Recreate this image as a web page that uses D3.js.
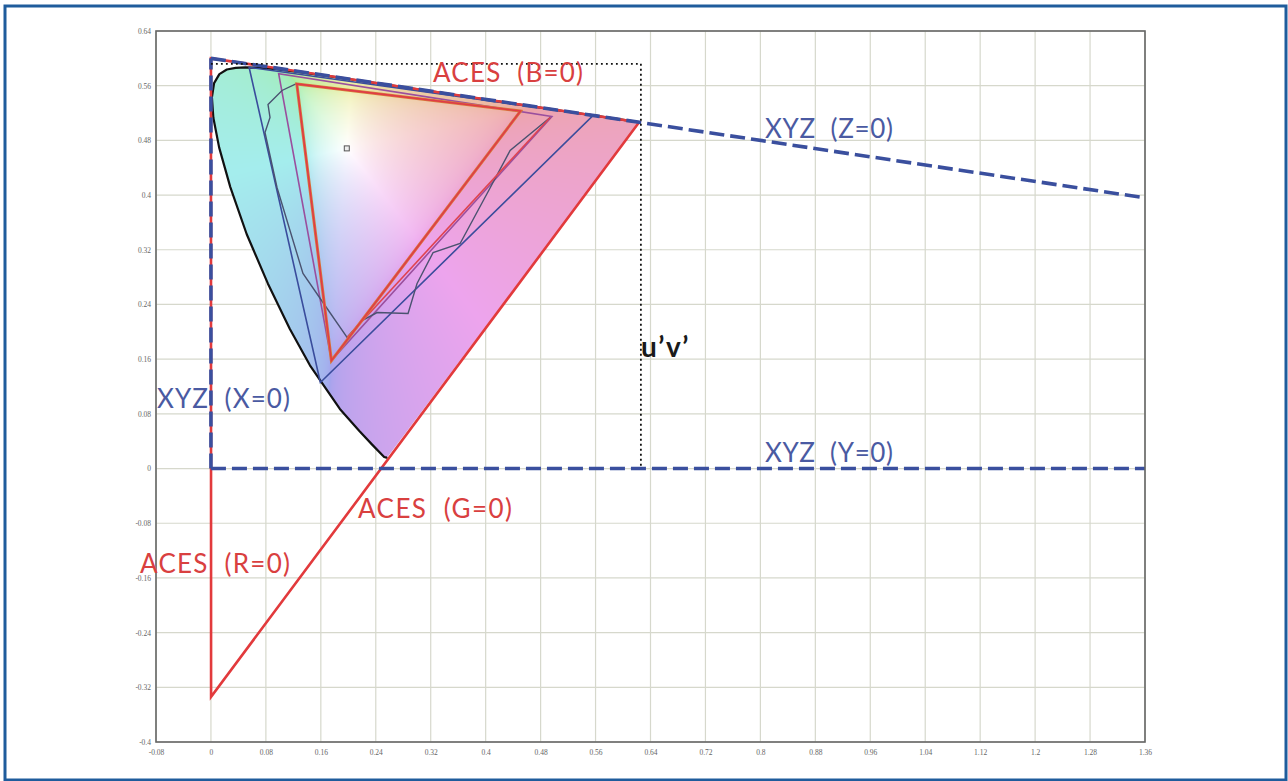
<!DOCTYPE html>
<html><head><meta charset="utf-8">
<script src="https://cdn.jsdelivr.net/npm/d3@7"></script>
<style>html,body{margin:0;padding:0;background:#fff;}svg{display:block;}</style>
</head><body>
<svg id="chart" width="1288" height="781"></svg>
<script>
// ---------- DATA ----------
const xTickValues = [-0.08,0,0.08,0.16,0.24,0.32,0.4,0.48,0.56,0.64,0.72,0.8,0.88,0.96,1.04,1.12,1.2,1.28,1.36];
const xTickLabels = ["-0.08","0","0.08","0.16","0.24","0.32","0.4","0.48","0.56","0.64","0.72","0.8","0.88","0.96","1.04","1.12","1.2","1.28","1.36"];
const yTickValues = [-0.4,-0.32,-0.24,-0.16,-0.08,0,0.08,0.16,0.24,0.32,0.4,0.48,0.56,0.64];
const yTickLabels = ["-0.4","-0.32","-0.24","-0.16","-0.08","0","0.08","0.16","0.24","0.32","0.4","0.48","0.56","0.64"];

// spectral locus (u', v'), 380 nm -> 700 nm
const locusNm = [380,400,420,440,450,460,470,475,480,485,490,495,500,505,510,515,520,525,530,535,540,545,550,555,560,565,570,575,580,585,590,595,600,610,620,630,640,650,700];
const locusU = [0.2568,0.2557,0.2522,0.2347,0.2161,0.1877,0.1441,0.1147,0.0828,0.0521,0.0282,0.0119,0.0035,0.0014,0.0046,0.0123,0.0231,0.0360,0.0501,0.0643,0.0792,0.0953,0.1127,0.1319,0.1531,0.1766,0.2026,0.2312,0.2623,0.2960,0.3315,0.3681,0.4035,0.4692,0.5203,0.5565,0.5830,0.6005,0.6234];
const locusV = [0.0166,0.0159,0.0169,0.0350,0.0549,0.0871,0.1510,0.2044,0.2708,0.3427,0.4117,0.4698,0.5131,0.5431,0.5638,0.5770,0.5837,0.5861,0.5868,0.5865,0.5856,0.5841,0.5821,0.5796,0.5766,0.5732,0.5694,0.5651,0.5604,0.5554,0.5501,0.5446,0.5393,0.5296,0.5219,0.5165,0.5125,0.5099,0.5065];

// ACES AP0 primaries R, G, B
const acesU = [0.6234, 0.0, 0.0002];
const acesV = [0.5065, 0.6, -0.3338];
// Rec.2020, P3, Rec.709 (R, G, B)
const rec2020U = [0.5566, 0.0556, 0.1593];
const rec2020V = [0.5165, 0.5868, 0.1258];
const p3U = [0.4964, 0.0986, 0.1754];
const p3V = [0.5150, 0.5777, 0.1579];
const rec709U = [0.4507, 0.1250, 0.1754];
const rec709V = [0.5229, 0.5625, 0.1579];
// irregular gamut outline
const jagU = [0.1253,0.1035,0.0831,0.0860,0.0787,0.0962,0.1151,0.1340,0.1661,0.1982,0.2200,0.2419,0.2870,0.3001,0.3235,0.3628,0.4021,0.4356,0.4939];
const jagV = [0.5633,0.5530,0.5325,0.5135,0.4916,0.4111,0.3482,0.2853,0.2385,0.1917,0.2165,0.2282,0.2268,0.2707,0.3160,0.3292,0.4023,0.4652,0.5135];
const redExtraU = [0.1982, 0.4939];
const redExtraV = [0.1917, 0.5135];
// XYZ boundary lines
const xyzX0U = [0, 0], xyzX0V = [0, 0.6];
const xyzY0U = [0, 1.36], xyzY0V = [0, 0];
const xyzZ0U = [0, 1.36], xyzZ0V = [0.6, 0.396];
// dotted u'v' box
const boxU = [0, 0.626, 0.626], boxV = [0.592, 0.592, 0];
// D65 white
const whiteU = [0.1978], whiteV = [0.4683];

// ---------- LAYOUT ----------
const svg = d3.select("#chart");
const x = d3.scaleLinear().domain([-0.08, 1.36]).range([156, 1145]);
const y = d3.scaleLinear().domain([-0.4, 0.64]).range([742, 31]);
const pts = (U, V) => U.map((u, i) => [x(u), y(V[i])]);
const line = d3.line();

// outer frame
svg.append("rect").attr("x", 5).attr("y", 6).attr("width", 1281).attr("height", 774)
  .attr("fill", "#fff").attr("stroke", "#1f5c9c").attr("stroke-width", 3);

// grid
const g = svg.append("g");
g.selectAll(".vg").data(xTickValues).join("line")
  .attr("x1", d => x(d)).attr("x2", d => x(d)).attr("y1", y(0.64)).attr("y2", y(-0.4))
  .attr("stroke", "#d6d8cc").attr("stroke-width", 1.2);
g.selectAll(".hg").data(yTickValues).join("line")
  .attr("y1", d => y(d)).attr("y2", d => y(d)).attr("x1", x(-0.08)).attr("x2", x(1.36))
  .attr("stroke", "#d6d8cc").attr("stroke-width", 1.2);

// axes with tick labels
const xAxis = d3.axisBottom(x).tickValues(xTickValues).tickFormat((d, i) => xTickLabels[i]).tickSize(0).tickPadding(8);
const yAxis = d3.axisLeft(y).tickValues(yTickValues).tickFormat((d, i) => yTickLabels[i]).tickSize(0).tickPadding(5);
const ax = svg.append("g").attr("transform", `translate(0,${y(-0.4)})`).call(xAxis);
const ay = svg.append("g").attr("transform", `translate(${x(-0.08)},0)`).call(yAxis);
[ax, ay].forEach(a => {
  a.select(".domain").remove();
  a.selectAll("text").attr("font-family", "Liberation Serif, DejaVu Serif, serif").attr("font-size", 7.5).attr("fill", "#666");
});

// chromaticity fill (pastel), rendered into an image and clipped to the locus
const defs = svg.append("defs");
const locusPts = pts(locusU, locusV);
defs.append("clipPath").attr("id", "locusClip").append("path").attr("d", line(locusPts) + "Z");
(function () {
  const x0 = Math.floor(x(0)), x1 = Math.ceil(x(0.63)), y0 = Math.floor(y(0.6)), y1 = Math.ceil(y(0.0));
  const w = x1 - x0, h = y1 - y0;
  const cv = document.createElement("canvas"); cv.width = w; cv.height = h;
  const ctx = cv.getContext("2d");
  const img = ctx.createImageData(w, h);
  const gam = c => c <= 0.0031308 ? 12.92 * c : 1.055 * Math.pow(c, 1 / 2.4) - 0.055;
  const s = 0.31;
  for (let j = 0; j < h; j++) {
    for (let i = 0; i < w; i++) {
      const u = x.invert(x0 + i + 0.5), v = y.invert(y0 + j + 0.5);
      const k = (i + j * w) * 4;
      const den = 6 * u - 16 * v + 12;
      const cx = 9 * u / den, cy = 4 * v / den;
      if (cy <= 0.001) { img.data[k + 3] = 0; continue; }
      const X = cx / cy, Y = 1, Z = (1 - cx - cy) / cy;
      let r = 3.2406 * X - 1.5372 * Y - 0.4986 * Z;
      let gg = -0.9689 * X + 1.8758 * Y + 0.0415 * Z;
      let b = 0.0557 * X - 0.2040 * Y + 1.0570 * Z;
      const mn = Math.min(r, gg, b);
      if (mn < 0) { r -= mn; gg -= mn; b -= mn; }
      const mx = Math.max(r, gg, b);
      r = gam(r / mx); gg = gam(gg / mx); b = gam(b / mx);
      const sat = 1 - Math.min(r, gg, b);
      const sc = 1 - 0.07 * sat;
      const f = c => (1 - s * (1 - c)) * sc;
      img.data[k] = Math.round(f(r) * 255); img.data[k + 1] = Math.round(f(gg) * 255); img.data[k + 2] = Math.round(f(b) * 255); img.data[k + 3] = 255;
    }
  }
  ctx.putImageData(img, 0, 0);
  svg.append("image").attr("x", x0).attr("y", y0).attr("width", w).attr("height", h)
    .attr("href", cv.toDataURL()).attr("clip-path", "url(#locusClip)");
})();

// spectral locus outline
svg.append("path").attr("d", line(locusPts)).attr("fill", "none")
  .attr("stroke", "#111").attr("stroke-width", 2.2).attr("stroke-linejoin", "round");

// inner gamuts
const tri = (U, V) => line(pts(U, V)) + "Z";
svg.append("path").attr("d", tri(rec2020U, rec2020V)).attr("fill", "none").attr("stroke", "#3a4c9c").attr("stroke-width", 1.6);
svg.append("path").attr("d", tri(p3U, p3V)).attr("fill", "none").attr("stroke", "#9a4f9e").attr("stroke-width", 1.6);
svg.append("path").attr("d", line(pts(jagU, jagV))).attr("fill", "none").attr("stroke", "#4a5270").attr("stroke-width", 1.4);
svg.append("path").attr("d", line(pts(redExtraU, redExtraV))).attr("fill", "none").attr("stroke", "#e04450").attr("stroke-width", 1.6);
svg.append("path").attr("d", tri(rec709U, rec709V)).attr("fill", "none").attr("stroke", "#d8783a").attr("stroke-width", 3.0);
svg.append("path").attr("d", tri(rec709U, rec709V)).attr("fill", "none").attr("stroke", "#e03a48").attr("stroke-width", 1.5);

// D65
svg.selectAll(".wp").data(whiteU).join("rect")
  .attr("x", (d) => x(d) - 2.5).attr("y", (d, i) => y(whiteV[i]) - 2.5).attr("width", 5).attr("height", 5)
  .attr("fill", "#eee").attr("stroke", "#555").attr("stroke-width", 1);

// ACES triangle (red)
svg.append("path").attr("d", tri(acesU, acesV)).attr("fill", "none")
  .attr("stroke", "#e23a3c").attr("stroke-width", 2.6).attr("stroke-linejoin", "miter");

// XYZ boundaries (blue dashed)
const dashed = (U, V) => svg.append("path").attr("d", line(pts(U, V))).attr("fill", "none")
  .attr("stroke", "#3a4f9e").attr("stroke-width", 3.6).attr("stroke-dasharray", "15 6");
dashed(xyzX0U, xyzX0V); dashed(xyzY0U, xyzY0V); dashed(xyzZ0U, xyzZ0V);

// dotted box
svg.append("path").attr("d", line(pts(boxU, boxV))).attr("fill", "none")
  .attr("stroke", "#111").attr("stroke-width", 1.8).attr("stroke-dasharray", "1.8 3.2");

// plot frame
svg.append("rect").attr("x", x(-0.08)).attr("y", y(0.64)).attr("width", x(1.36) - x(-0.08)).attr("height", y(-0.4) - y(0.64))
  .attr("fill", "none").attr("stroke", "#666").attr("stroke-width", 1.6);

// annotations
const labels = [
  {t: "ACES  (B=0)", px: 433, py: 82, w: 150, c: "#d9403f"},
  {t: "XYZ  (Z=0)", px: 765, py: 138, w: 128, c: "#4a5aa2"},
  {t: "XYZ  (X=0)", px: 157, py: 408, w: 133, c: "#4a5aa2"},
  {t: "XYZ  (Y=0)", px: 765, py: 462, w: 128, c: "#4a5aa2"},
  {t: "ACES  (G=0)", px: 358, py: 518, w: 154, c: "#d9403f"},
  {t: "ACES  (R=0)", px: 140, py: 573, w: 150, c: "#d9403f"}
];
svg.selectAll(".lab").data(labels).join("text")
  .attr("x", d => d.px).attr("y", d => d.py).text(d => d.t)
  .attr("textLength", d => d.w).attr("lengthAdjust", "spacing")
  .attr("fill", d => d.c).attr("font-family", "Lato, 'Open Sans', sans-serif").attr("font-size", 26)
  .attr("xml:space", "preserve");
svg.append("text").attr("x", 641).attr("y", 357).text("u’v’")
  .attr("fill", "#1a1a1a").attr("font-family", "Lato, 'Open Sans', sans-serif").attr("font-size", 28).attr("font-weight", "bold")
  .attr("letter-spacing", 1.5);
</script>
</body></html>
